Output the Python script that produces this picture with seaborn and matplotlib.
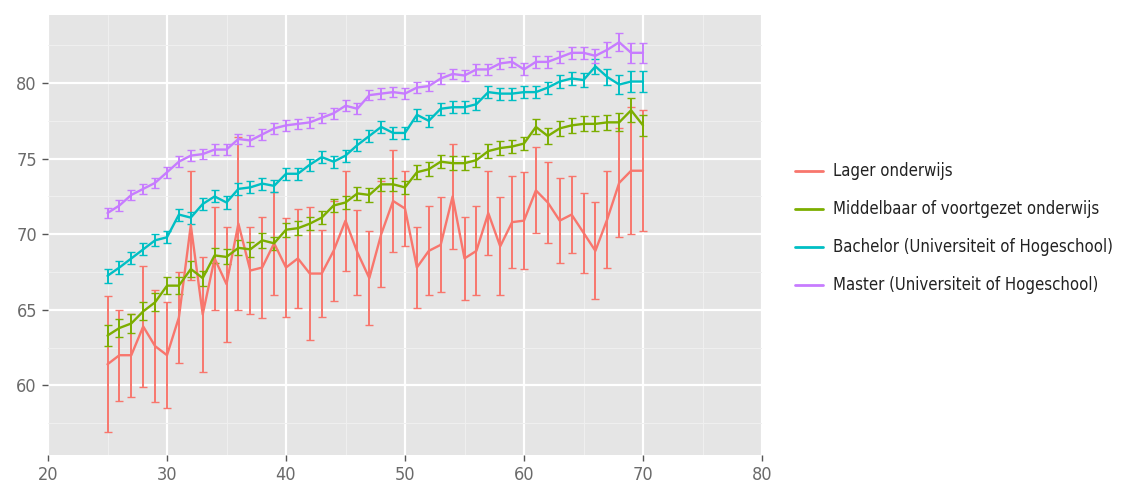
import matplotlib
matplotlib.use("Agg")
import matplotlib.pyplot as plt
from matplotlib import font_manager
from matplotlib.ticker import MultipleLocator
import seaborn as sns
import pandas as pd
import numpy as np

ages = list(range(25, 71))

groups = ["Lager onderwijs",
          "Middelbaar of voortgezet onderwijs",
          "Bachelor (Universiteit of Hogeschool)",
          "Master (Universiteit of Hogeschool)"]

lager = [61.4, 62.0, 62.0, 63.9, 62.6, 62.0, 64.5, 70.6, 64.7, 68.4,
         66.7, 70.7, 67.6, 67.8, 69.4, 67.8, 68.4, 67.4, 67.4, 68.9,
         70.9, 68.8, 67.1, 70.0, 72.2, 71.7, 67.8, 68.9, 69.3, 72.5,
         68.4, 68.9, 71.4, 69.2, 70.8, 70.9, 72.9, 72.1, 70.9, 71.3,
         70.1, 68.9, 71.0, 73.4, 74.2, 74.2]
lager_err = [4.5, 3.0, 2.75, 4.0, 3.7, 3.5, 3.0, 3.6, 3.8, 3.4,
             3.8, 5.7, 2.9, 3.35, 3.4, 3.3, 3.25, 4.4, 2.9, 3.3,
             3.3, 2.8, 3.1, 3.5, 3.4, 2.5, 2.65, 2.95, 3.15, 3.45,
             2.75, 2.95, 2.8, 3.25, 3.05, 3.2, 2.85, 2.7, 2.8, 2.55,
             2.65, 3.2, 3.2, 3.6, 4.2, 4.0]

middelbaar = [63.3, 63.8, 64.1, 64.9, 65.5, 66.6, 66.6, 67.7, 67.1, 68.6,
              68.5, 69.1, 69.0, 69.6, 69.4, 70.3, 70.4, 70.7, 71.1, 71.9,
              72.1, 72.7, 72.6, 73.3, 73.3, 73.1, 74.1, 74.3, 74.8, 74.7,
              74.7, 74.9, 75.5, 75.7, 75.8, 76.0, 77.1, 76.5, 77.0, 77.2,
              77.3, 77.3, 77.4, 77.4, 78.2, 77.2]
middelbaar_err = [0.7, 0.6, 0.6, 0.6, 0.6, 0.55, 0.55, 0.55, 0.5, 0.5,
                  0.5, 0.5, 0.5, 0.5, 0.45, 0.45, 0.45, 0.45, 0.45, 0.45,
                  0.45, 0.45, 0.45, 0.45, 0.45, 0.45, 0.45, 0.45, 0.45, 0.45,
                  0.45, 0.45, 0.45, 0.45, 0.45, 0.45, 0.5, 0.5, 0.5, 0.5,
                  0.5, 0.5, 0.5, 0.6, 0.8, 0.7]

bachelor = [67.25, 67.8, 68.4, 69.0, 69.6, 69.8, 71.3, 71.1, 72.0, 72.5,
            72.1, 73.0, 73.1, 73.35, 73.2, 74.0, 74.0, 74.6, 75.1, 74.8,
            75.2, 75.9, 76.5, 77.1, 76.7, 76.7, 77.9, 77.5, 78.3, 78.4,
            78.4, 78.6, 79.4, 79.3, 79.3, 79.4, 79.4, 79.7, 80.1, 80.3,
            80.2, 81.1, 80.4, 79.9, 80.1, 80.1]
bachelor_err = [0.45, 0.4, 0.4, 0.4, 0.4, 0.4, 0.4, 0.4, 0.4, 0.4,
                0.4, 0.4, 0.4, 0.4, 0.4, 0.4, 0.4, 0.4, 0.4, 0.4,
                0.4, 0.4, 0.4, 0.4, 0.4, 0.4, 0.4, 0.4, 0.4, 0.4,
                0.4, 0.4, 0.4, 0.4, 0.4, 0.4, 0.4, 0.4, 0.45, 0.45,
                0.45, 0.5, 0.55, 0.6, 0.7, 0.7]

master = [71.4, 71.9, 72.6, 73.0, 73.4, 74.1, 74.8, 75.2, 75.3, 75.6,
          75.6, 76.3, 76.2, 76.6, 77.0, 77.2, 77.3, 77.4, 77.7, 78.0,
          78.5, 78.3, 79.2, 79.3, 79.4, 79.3, 79.7, 79.8, 80.3, 80.6,
          80.5, 80.9, 80.9, 81.3, 81.4, 80.9, 81.4, 81.4, 81.7, 82.0,
          82.0, 81.8, 82.2, 82.7, 82.0, 82.0]
master_err = [0.35, 0.35, 0.35, 0.35, 0.35, 0.35, 0.35, 0.35, 0.35, 0.35,
              0.35, 0.35, 0.35, 0.35, 0.35, 0.35, 0.35, 0.35, 0.35, 0.35,
              0.35, 0.35, 0.35, 0.35, 0.35, 0.35, 0.35, 0.35, 0.35, 0.35,
              0.35, 0.35, 0.35, 0.35, 0.35, 0.4, 0.4, 0.4, 0.4, 0.4,
              0.4, 0.45, 0.5, 0.6, 0.65, 0.65]

colors = ["#F8766D", "#7CAE00", "#00BFC4", "#C77CFF"]

values = [lager, middelbaar, bachelor, master]
errors = [lager_err, middelbaar_err, bachelor_err, master_err]

df = pd.DataFrame({
    "leeftijd": np.tile(ages, len(groups)),
    "waarde": np.concatenate(values),
    "fout": np.concatenate(errors),
    "groep": np.repeat(groups, len(ages)),
})

sns.set_theme(style="darkgrid")

# pick a narrow/condensed sans font if one is installed
narrow_file = None
for f in font_manager.fontManager.ttflist:
    nm = f.name.lower()
    fn = f.fname.lower()
    if ("narrow" in nm or "condensed" in fn) and "bold" not in fn and "oblique" not in fn \
            and "italic" not in fn:
        narrow_file = f.fname
        break

if narrow_file is not None:
    fp = font_manager.FontProperties(fname=narrow_file)
    leg_size = 12
    tick_size = 13
else:
    fp = font_manager.FontProperties(family=["Liberation Sans", "DejaVu Sans"])
    leg_size = 10.5
    tick_size = 11.5
plt.rcParams["font.family"] = ["Liberation Sans", "DejaVu Sans"]

fig = plt.figure(figsize=(11.3, 4.99), dpi=100)
ax = fig.add_axes([48 / 1130, 44 / 499, 714 / 1130, 440 / 499])
ax.set_facecolor("#E5E5E5")

for g, c in zip(groups, colors):
    sub = df[df["groep"] == g]
    ax.errorbar(sub["leeftijd"], sub["waarde"], yerr=sub["fout"], fmt="none",
                ecolor=c, elinewidth=1.4, capsize=3, capthick=1.0, zorder=3)

sns.lineplot(data=df, x="leeftijd", y="waarde", hue="groep", hue_order=groups,
             palette=colors, linewidth=1.7, ax=ax, zorder=4)

ax.set_xlim(20, 80)
ax.set_ylim(55.4, 84.5)
ax.xaxis.set_major_locator(MultipleLocator(10))
ax.xaxis.set_minor_locator(MultipleLocator(5))
ax.yaxis.set_major_locator(MultipleLocator(5))
ax.yaxis.set_minor_locator(MultipleLocator(2.5))
ax.grid(which="major", color="white", linewidth=1.6)
ax.grid(which="minor", color="#F0F0F0", linewidth=0.7)
ax.set_axisbelow(True)
for s in ax.spines.values():
    s.set_visible(False)
ax.tick_params(which="major", length=4, width=1, color="#555555",
               labelcolor="#6A6A6A", pad=4)
ax.tick_params(which="minor", length=0)
ax.tick_params(axis="x", bottom=True)
ax.tick_params(axis="y", left=True)
for lab in ax.get_xticklabels() + ax.get_yticklabels():
    lab.set_fontproperties(fp)
    lab.set_fontsize(tick_size)
ax.set_xlabel("")
ax.set_ylabel("")

leg_fp = fp.copy()
leg_fp.set_size(leg_size)
leg = ax.legend(title=None, loc="center left", bbox_to_anchor=(1.025, 0.515),
                frameon=False, prop=leg_fp, handlelength=1.7,
                handletextpad=0.6, labelspacing=1.2)
for line in leg.get_lines():
    line.set_linewidth(2.0)
for t in leg.get_texts():
    t.set_color("#222222")

fig.savefig("out.png", dpi=100, facecolor="white")
